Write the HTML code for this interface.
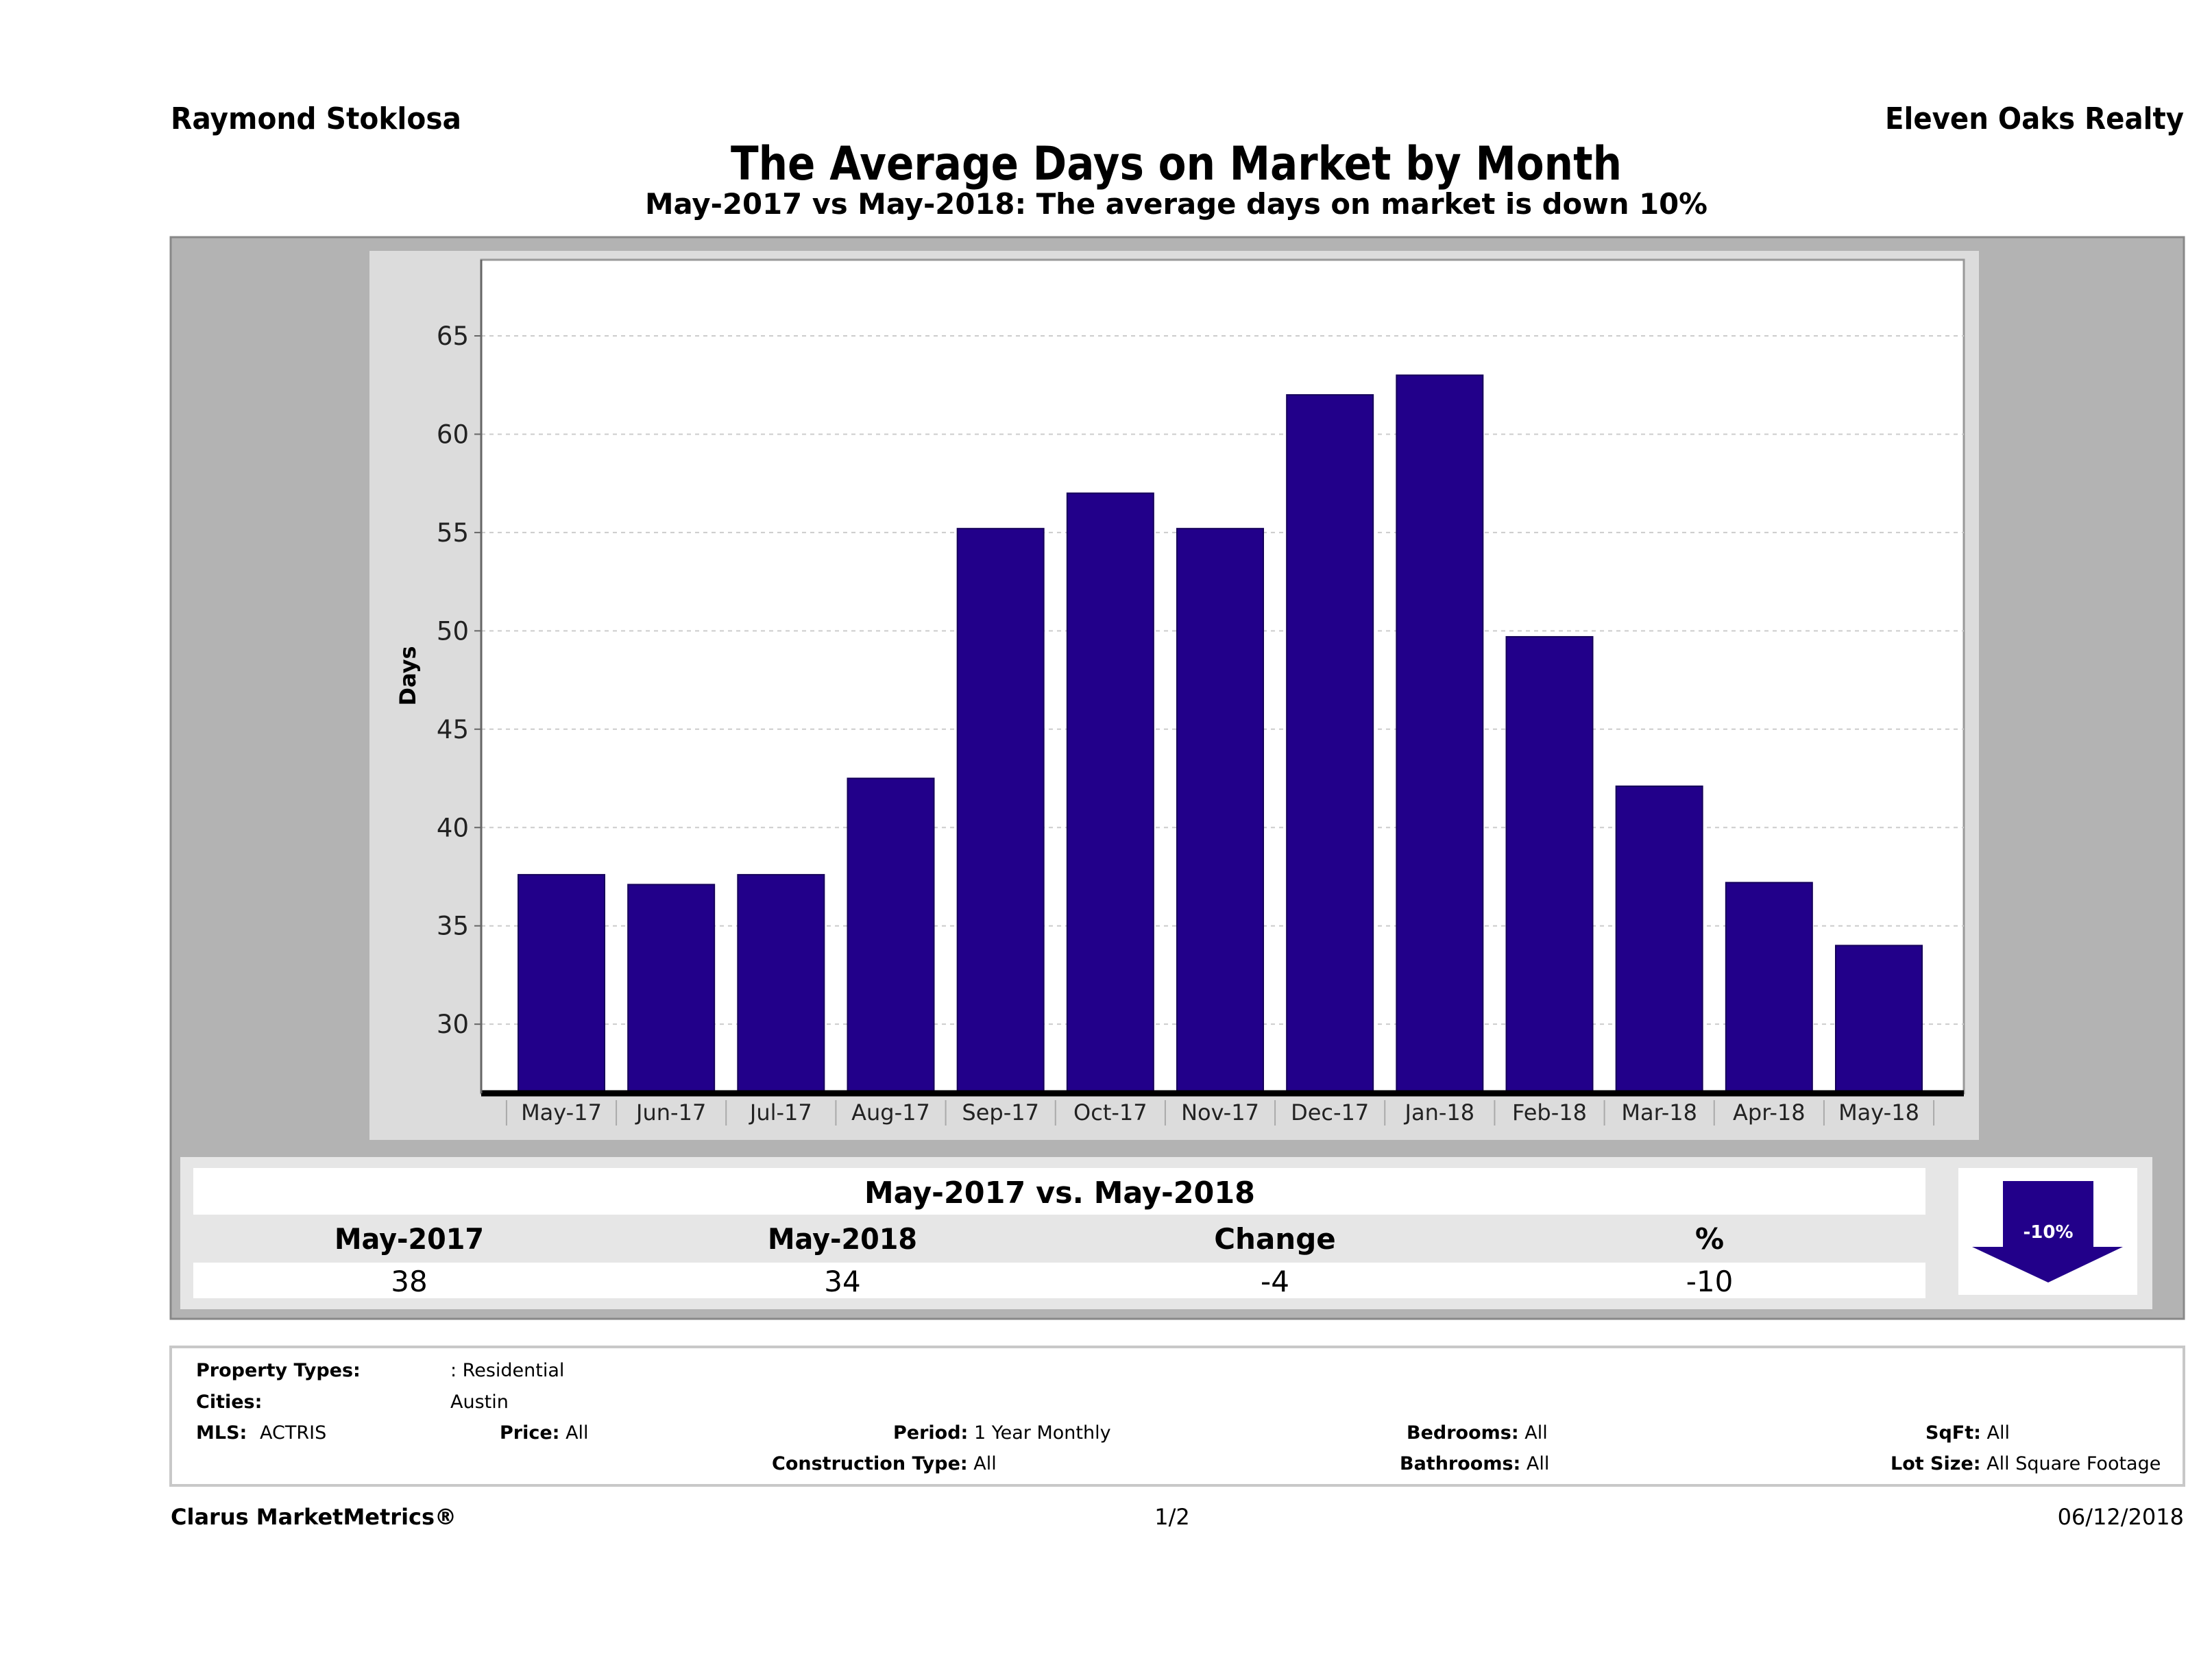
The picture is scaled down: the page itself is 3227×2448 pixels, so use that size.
<!DOCTYPE html>
<html><head><meta charset="utf-8"><style>
html,body{margin:0;padding:0;background:#fff;}
svg{display:block;font-family:"DejaVu Sans","Liberation Sans",sans-serif;}
</style></head><body>
<svg id="chart" width="3227" height="2448" viewBox="0 0 3227 2448" xmlns="http://www.w3.org/2000/svg">
<text x="249" y="188" font-size="44" font-weight="bold" textLength="424" lengthAdjust="spacingAndGlyphs">Raymond Stoklosa</text>
<text x="3186" y="188" font-size="44" font-weight="bold" text-anchor="end" textLength="436" lengthAdjust="spacingAndGlyphs">Eleven Oaks Realty</text>
<text x="1716" y="262" font-size="68" font-weight="bold" text-anchor="middle" textLength="1300" lengthAdjust="spacingAndGlyphs">The Average Days on Market by Month</text>
<text x="1716" y="312" font-size="42" font-weight="bold" text-anchor="middle" textLength="1550" lengthAdjust="spacingAndGlyphs">May-2017 vs May-2018: The average days on market is down 10%</text>

<rect x="249" y="346" width="2937" height="1578" fill="#b3b3b3" stroke="#888" stroke-width="3"/>
<rect x="539" y="366" width="2348" height="1297" fill="#dcdcdc"/>
<rect x="702" y="379" width="2163" height="1216" fill="#fff" stroke="#999" stroke-width="3"/>
<g id="grid"></g>
<g id="bars"></g>
<line x1="702" y1="1595" x2="2865" y2="1595" stroke="#000" stroke-width="9"/>
<line x1="702" y1="379" x2="702" y2="1595" stroke="#666" stroke-width="3"/>
<g id="xlabels"></g>
<text transform="translate(606,986) rotate(-90)" font-size="32" font-weight="bold" text-anchor="middle">Days</text>

<rect x="263" y="1688" width="2877" height="222" fill="#e6e6e6"/>
<rect x="282" y="1704" width="2527" height="68" fill="#fff"/>
<text x="1546" y="1755" font-size="44" font-weight="bold" text-anchor="middle" textLength="570" lengthAdjust="spacingAndGlyphs">May-2017 vs. May-2018</text>
<rect x="282" y="1842" width="2527" height="52" fill="#fff"/>
<g font-size="42" text-anchor="middle">
<text x="597" y="1822" font-weight="bold" textLength="218" lengthAdjust="spacingAndGlyphs">May-2017</text>
<text x="1229" y="1822" font-weight="bold" textLength="218" lengthAdjust="spacingAndGlyphs">May-2018</text>
<text x="1860" y="1822" font-weight="bold">Change</text>
<text x="2494" y="1822" font-weight="bold">%</text>
<text x="597" y="1884">38</text>
<text x="1229" y="1884">34</text>
<text x="1860" y="1884">-4</text>
<text x="2494" y="1884">-10</text>
</g>
<rect x="2857" y="1704" width="261" height="185" fill="#fff"/>
<polygon points="2922,1723 3054,1723 3054,1819 3097,1819 2988,1871 2877,1819 2922,1819" fill="#22008a"/>
<text x="2988" y="1806" font-size="26" font-weight="bold" fill="#fff" text-anchor="middle">-10%</text>

<rect x="249" y="1965" width="2937" height="202" fill="#fff" stroke="#c8c8c8" stroke-width="4"/>
<g font-size="27" fill="#000">
<text x="286" y="2008"><tspan font-weight="bold">Property Types:</tspan><tspan x="657">: Residential</tspan></text>
<text x="286" y="2054"><tspan font-weight="bold">Cities:</tspan><tspan x="657">Austin</tspan></text>
<text x="286" y="2099"><tspan font-weight="bold">MLS:</tspan><tspan x="379">ACTRIS</tspan></text>
<text x="729" y="2099"><tspan font-weight="bold">Price:</tspan> All</text>
<text x="1303" y="2099"><tspan font-weight="bold">Period:</tspan> 1 Year Monthly</text>
<text x="1126" y="2144"><tspan font-weight="bold">Construction Type:</tspan> All</text>
<text x="2052" y="2099"><tspan font-weight="bold">Bedrooms:</tspan> All</text>
<text x="2042" y="2144"><tspan font-weight="bold">Bathrooms:</tspan> All</text>
<text x="2809" y="2099"><tspan font-weight="bold">SqFt:</tspan> All</text>
<text x="2758" y="2144"><tspan font-weight="bold">Lot Size:</tspan> All Square Footage</text>
</g>
<text x="249" y="2224" font-size="32" font-weight="bold">Clarus MarketMetrics®</text>
<text x="1710" y="2224" font-size="32" text-anchor="middle">1/2</text>
<text x="3186" y="2224" font-size="32" text-anchor="end">06/12/2018</text>
</svg>
<script>
const categories = ["May-17","Jun-17","Jul-17","Aug-17","Sep-17","Oct-17","Nov-17","Dec-17","Jan-18","Feb-18","Mar-18","Apr-18","May-18"];
const daysOnMarket = [37.6,37.1,37.6,42.5,55.2,57.0,55.2,62.0,63.0,49.7,42.1,37.2,34.0];
const yTicks = [30,35,40,45,50,55,60,65];

const NS = "http://www.w3.org/2000/svg";
const plotL = 702, plotR = 2865, yMin = 26.5;
function yScale(v){ return 490 + (65 - v) * 28.69; }
const firstCenter = 819, step = (2741 - 819) / 12;
function xScale(i){ return firstCenter + i * step * (12 / (categories.length - 1)); }
const barW = 126;
function mk(tag, attrs, parent){ const e = document.createElementNS(NS, tag); for (const k in attrs) e.setAttribute(k, attrs[k]); parent.appendChild(e); return e; }

const grid = document.getElementById('grid');
yTicks.forEach(t => {
  const y = yScale(t);
  const l = mk('line', {x1: plotL, x2: plotR, y1: y, y2: y, stroke: '#ccc', 'stroke-width': 2, 'stroke-dasharray': '6,6'}, grid);
  
  
  const tk = mk('line', {x1: plotL - 10, x2: plotL, y1: y, y2: y, stroke: '#666', 'stroke-width': 2}, grid);
  
  
  const tx = mk('text', {x: 684, y: y + 13, 'font-size': 37, 'text-anchor': 'end', fill: '#222'}, grid);
  tx.textContent = t;
  
  
});

const bars = document.getElementById('bars');
const baseY = yScale(yMin);
daysOnMarket.forEach((v, i) => {
  const cx = xScale(i), top = yScale(v);
  const r = mk('rect', {x: cx - barW/2, y: top, width: barW, height: baseY - top, fill: '#22008a', stroke: '#15005a', 'stroke-width': 2}, bars);
  
  
});

const xl = document.getElementById('xlabels');
categories.forEach((c, i) => {
  const cx = xScale(i);
  const sep = mk('line', {x1: cx - step/2, x2: cx - step/2, y1: 1605, y2: 1642, stroke: '#aaa', 'stroke-width': 2}, xl);
  
  
  const t = mk('text', {x: cx, y: 1634, 'font-size': 32, 'text-anchor': 'middle', fill: '#222'}, xl);
  t.textContent = c;
  
  
});
const lastSep = mk('line', {x1: xScale(categories.length - 1) + step/2, x2: xScale(categories.length - 1) + step/2, y1: 1605, y2: 1642, stroke: '#aaa', 'stroke-width': 2}, xl);


</script>
</body></html>
